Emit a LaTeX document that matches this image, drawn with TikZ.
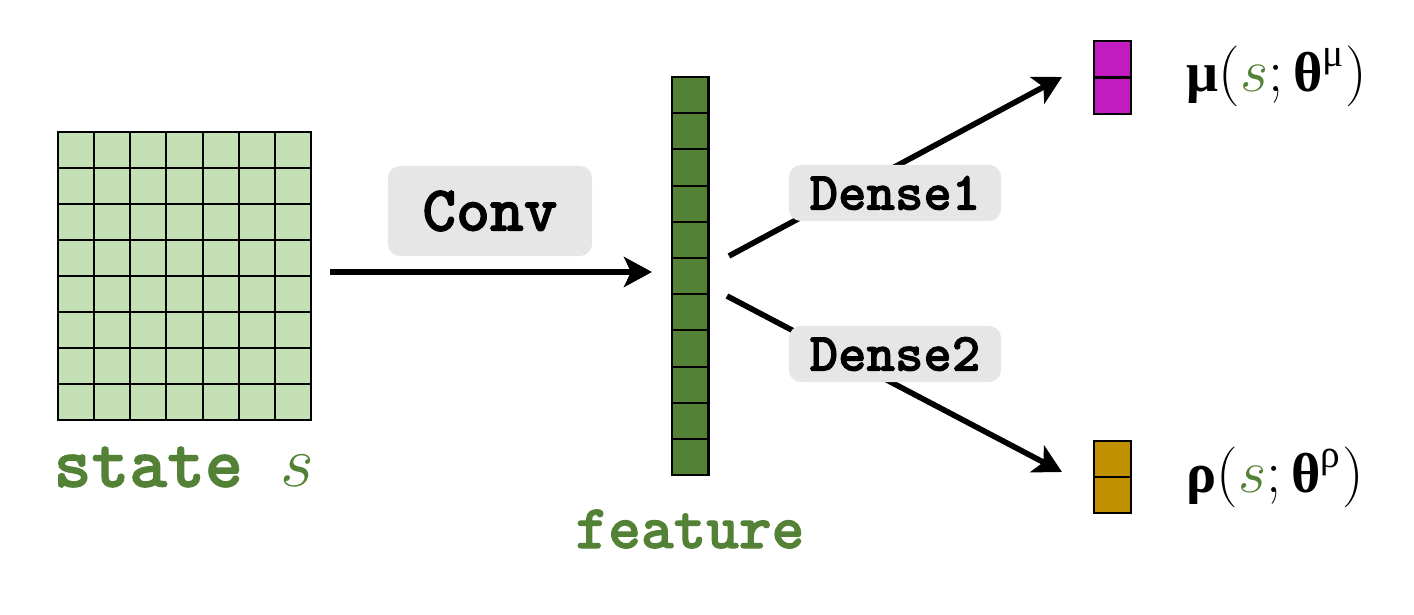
\documentclass[tikz,border=0pt]{standalone}
\usepackage{fontspec}
\newfontfamily\greekfont{Liberation Serif}
\newfontfamily\codefont{lmmonolt10-bold.otf}[FakeBold=1.6]
\usepackage{bm}
\usepackage{amsmath}
\usetikzlibrary{arrows.meta,arrows}
\usetikzlibrary{calc}
\definecolor{gridgreen}{HTML}{C5E0B4}
\definecolor{featgreen}{HTML}{538135}
\definecolor{mucolor}{HTML}{C21BC0}
\definecolor{rhocolor}{HTML}{BF9000}
\definecolor{boxgray}{HTML}{E7E6E6}
\newcommand{\gbf}[1]{\text{\greekfont\bfseries #1}}
\newcommand{\gup}[1]{\text{\greekfont #1}}

\begin{document}
\begin{tikzpicture}[x=0.01cm,y=-0.01cm]

\tikzset{line/.style={draw,line width=1.6pt}}
\tikzset{arrow/.style={line,-{Stealth[length=0.28cm,width=0.3cm,inset=0.07cm]}}}
\tikzset{cell/.style={draw,line width=0.6pt}}
\tikzset{tag/.style={fill=boxgray,rounded corners=0.12cm,inner sep=0pt}}

\useasboundingbox (0,0) rectangle (1414,615);

% state grid
\foreach \i in {0,...,6}
  \foreach \j in {0,...,7}
    \draw[cell,fill=gridgreen] (58+36.14*\i,132+36*\j) rectangle ++(36.14,36);
\node[text=featgreen,font=\fontsize{20.5}{22}\selectfont\codefont] (statetext) at (184,467) {state $s$};

% feature vector
\foreach \j in {0,...,10}
  \draw[cell,fill=featgreen] (672,77+36.2*\j) rectangle ++(36.5,36.2);
\node[text=featgreen,font=\fontsize{17.7}{20}\selectfont\codefont] (feattext) at (690,529) {feature};

% outputs
\foreach \j in {0,1}
  \draw[cell,fill=mucolor] (1094,41+36.5*\j) rectangle ++(37,36.5);
\foreach \j in {0,1}
  \draw[cell,fill=rhocolor] (1094,441+36*\j) rectangle ++(37,36);

\node[font=\fontsize{16}{18}\selectfont] (mutext) at (1277,76)
  {$\gbf{μ}(\textcolor{featgreen}{s};\gbf{θ}^{\gup{μ}})$};
\node[font=\fontsize{16}{18}\selectfont] (rhotext) at (1275,477)
  {$\gbf{ρ}(\textcolor{featgreen}{s};\gbf{θ}^{\gup{ρ}})$};

% connectors
\coordinate (s0) at (330,272);
\coordinate (f0) at (652,272);
\coordinate (f1) at (729,256);
\coordinate (f2) at (727,296);
\coordinate (mu) at (1062,77);
\coordinate (rho) at (1062,472);

\path[arrow] (s0) to (f0);
\path[arrow] (f1) to (mu);
\path[arrow] (f2) to (rho);

\node[tag,minimum width=2.04cm,minimum height=0.9cm,font=\fontsize{18.3}{20}\selectfont\codefont] (conv) at (490,211) {Conv};
\node[tag,minimum width=2.12cm,minimum height=0.56cm,font=\fontsize{15.4}{17}\selectfont\codefont] (dense1) at (895,193) {Dense1};
\node[tag,minimum width=2.12cm,minimum height=0.56cm,font=\fontsize{15.4}{17}\selectfont\codefont] (dense2) at (895,354) {Dense2};

\end{tikzpicture}
\end{document}
